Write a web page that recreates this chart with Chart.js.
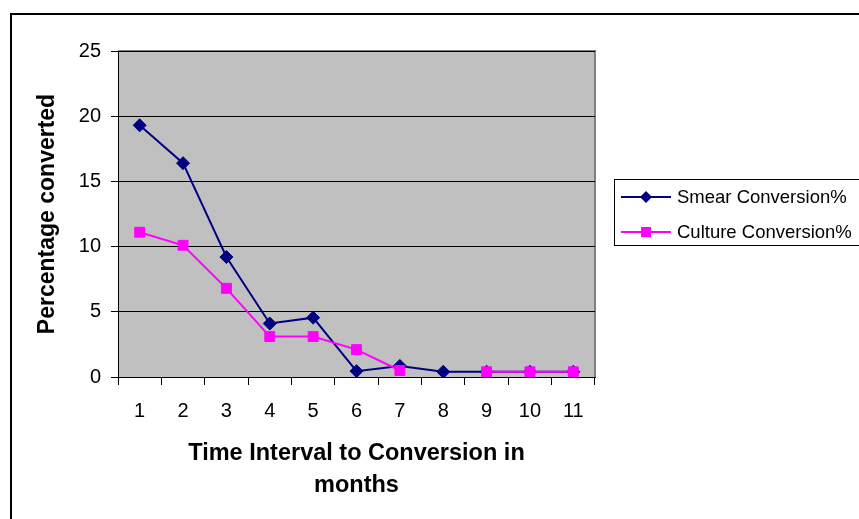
<!DOCTYPE html>
<html>
<head>
<meta charset="utf-8">
<script src="https://cdn.jsdelivr.net/npm/chart.js@4.4.1/dist/chart.umd.min.js"></script>
<style>
  html, body { margin: 0; padding: 0; background: #fff; }
  #wrap { position: relative; width: 859px; height: 519px; overflow: hidden; }
  #frame { position: absolute; left: 10px; top: 13px; width: 900px; height: 600px; border: 2px solid #000; box-sizing: border-box; }
  canvas { position: absolute; left: 0; top: 0; }
  #legend { position: absolute; left: 614px; top: 179px; width: 250px; height: 67px; border: 1px solid #000; box-sizing: border-box; background: #fff;
            font-family: "Liberation Sans", Arial, sans-serif; font-size: 18.5px; color: #000; }
  .item { position: absolute; left: 6px; height: 20px; display: flex; align-items: center; }
  .item canvas { position: static; }
  .item span { margin-left: 6px; white-space: nowrap; }
</style>
</head>
<body>
<div id="wrap">
  <div id="frame"></div>
  <canvas id="chart" width="859" height="519"></canvas>
  <div id="legend"></div>
</div>
<script>
// Months from first positive result to conversion
const months = ['1', '2', '3', '4', '5', '6', '7', '8', '9', '10', '11'];
// Percentage of patients converted in each month
const smearConversion = [19.3, 16.4, 9.2, 4.1, 4.55, 0.45, 0.85, 0.4, 0.4, 0.4, 0.4];
const cultureConversion = [11.1, 10.1, 6.8, 3.1, 3.1, 2.1, 0.5, null, 0.4, 0.4, 0.4];
const yTicks = [0, 5, 10, 15, 20, 25];

const SMEAR_COLOR = '#000080';
const CULTURE_COLOR = '#FF00FF';
const FONT = '"Liberation Sans", Arial, sans-serif';

// Grey plot background and grey frame on the right of the plot
const plotArea = {
  id: 'plotArea',
  beforeDraw(chart) {
    const { ctx, chartArea: a } = chart;
    ctx.save();
    ctx.fillStyle = '#C0C0C0';
    ctx.fillRect(a.left, a.top, a.right - a.left, a.bottom - a.top);
    ctx.strokeStyle = '#808080';
    ctx.lineWidth = 2;
    ctx.beginPath();
    ctx.moveTo(a.left, a.top);
    ctx.lineTo(a.right, a.top);
    ctx.lineTo(a.right, a.bottom);
    ctx.stroke();
    ctx.restore();
  }
};

new Chart(document.getElementById('chart'), {
  type: 'line',
  data: {
    labels: months,
    datasets: [
      {
        label: 'Smear Conversion%',
        data: smearConversion,
        order: 1,
        borderColor: SMEAR_COLOR,
        backgroundColor: SMEAR_COLOR,
        borderWidth: 2,
        pointStyle: 'rectRot',
        pointRadius: 6.5,
        pointBorderWidth: 1,
        tension: 0,
        spanGaps: false
      },
      {
        label: 'Culture Conversion%',
        data: cultureConversion,
        order: 0,
        borderColor: CULTURE_COLOR,
        backgroundColor: CULTURE_COLOR,
        borderWidth: 2,
        pointStyle: 'rect',
        pointRadius: 7,
        pointBorderWidth: 1,
        tension: 0,
        spanGaps: false
      }
    ]
  },
  options: {
    responsive: false,
    animation: false,
    layout: { padding: { left: 30, top: 51, right: 264, bottom: 0 } },
    plugins: {
      legend: { display: false },
      tooltip: { enabled: false }
    },
    scales: {
      x: {
        offset: true,
        grid: { offset: true, drawOnChartArea: false, drawTicks: true, tickLength: 8, color: '#000', lineWidth: 1 },
        border: { color: '#000', width: 1 },
        ticks: { color: '#000', font: { family: FONT, size: 20 }, padding: 14, maxRotation: 0, autoSkip: false },
        title: {
          display: true,
          text: ['Time Interval to Conversion in', 'months'],
          color: '#000',
          font: { family: FONT, size: 23.5, weight: 'bold', lineHeight: 1.36 },
          padding: { top: 0, bottom: 18 }
        },
        afterFit(scale) { scale.height = 142; }
      },
      y: {
        min: 0,
        max: 25,
        afterBuildTicks(scale) { scale.ticks = yTicks.map(v => ({ value: v })); },
        grid: { color: '#000', lineWidth: 1, drawTicks: true, tickLength: 7 },
        border: { color: '#000', width: 1 },
        ticks: { color: '#000', font: { family: FONT, size: 20 }, padding: 10 },
        title: {
          display: true,
          text: 'Percentage converted',
          color: '#000',
          font: { family: FONT, size: 23, weight: 'bold', lineHeight: 1.2 },
          padding: { top: 4, bottom: 4 }
        },
        afterFit(scale) { scale.width = 88; }
      }
    }
  },
  plugins: [plotArea]
});

// Legend entries: line sample with marker, then label
const legend = document.getElementById('legend');
[
  { label: 'Smear Conversion%', color: SMEAR_COLOR, shape: 'diamond', top: 7 },
  { label: 'Culture Conversion%', color: CULTURE_COLOR, shape: 'square', top: 42 }
].forEach(entry => {
  const item = document.createElement('div');
  item.className = 'item';
  item.style.top = entry.top + 'px';
  const sample = document.createElement('canvas');
  sample.width = 50; sample.height = 20;
  const c = sample.getContext('2d');
  c.strokeStyle = entry.color;
  c.lineWidth = 2;
  c.beginPath(); c.moveTo(0, 10); c.lineTo(50, 10); c.stroke();
  c.fillStyle = entry.color;
  if (entry.shape === 'diamond') {
    c.beginPath(); c.moveTo(25, 4); c.lineTo(31, 10); c.lineTo(25, 16); c.lineTo(19, 10); c.closePath(); c.fill();
  } else {
    c.fillRect(20, 5, 10, 10);
  }
  const text = document.createElement('span');
  text.textContent = entry.label;
  item.appendChild(sample);
  item.appendChild(text);
  legend.appendChild(item);
});
</script>
</body>
</html>
